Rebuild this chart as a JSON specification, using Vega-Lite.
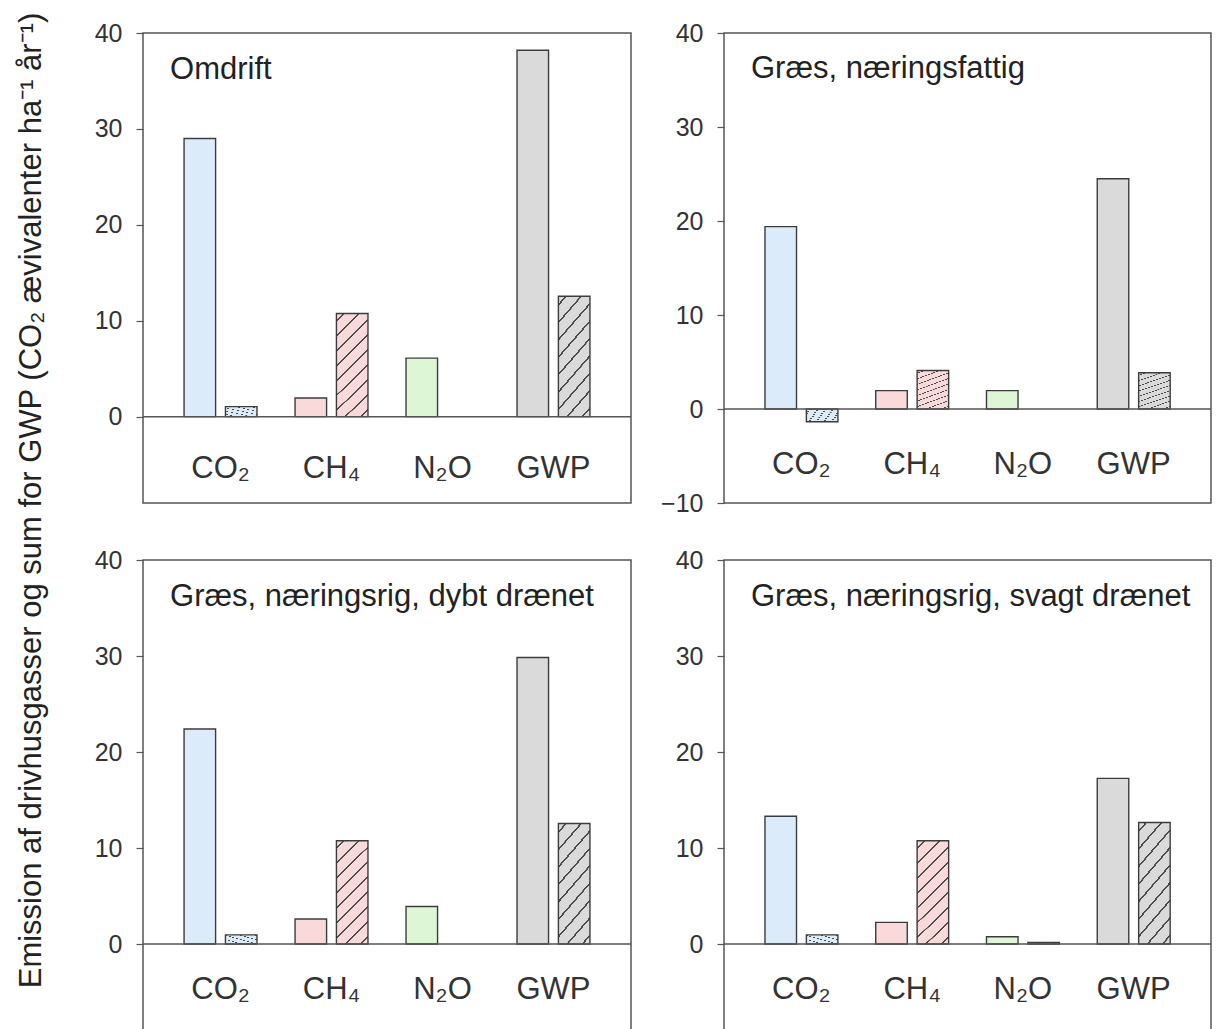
{
  "$schema": "https://vega.github.io/schema/vega-lite/v6.json",
  "padding": {"left": 16, "top": 12, "right": 5, "bottom": -11},
  "title": {
    "text": "Emission af drivhusgasser og sum for GWP (CO₂ ævivalenter ha⁻¹ år⁻¹)",
    "orient": "left", "anchor": "middle", "offset": 45, "fontSize": 31, "dx": 30
  },
  "data": {"values": [
    {"panel": "Omdrift", "gas": "CO₂", "type": "solid", "value": 29.0},
    {"panel": "Omdrift", "gas": "CO₂", "type": "hatched", "value": 1.05},
    {"panel": "Omdrift", "gas": "CH₄", "type": "solid", "value": 1.95},
    {"panel": "Omdrift", "gas": "CH₄", "type": "hatched", "value": 10.75},
    {"panel": "Omdrift", "gas": "N₂O", "type": "solid", "value": 6.1},
    {"panel": "Omdrift", "gas": "GWP", "type": "solid", "value": 38.2},
    {"panel": "Omdrift", "gas": "GWP", "type": "hatched", "value": 12.55},
    {"panel": "Græs, næringsfattig", "gas": "CO₂", "type": "solid", "value": 19.4},
    {"panel": "Græs, næringsfattig", "gas": "CO₂", "type": "hatched", "value": -1.35},
    {"panel": "Græs, næringsfattig", "gas": "CH₄", "type": "solid", "value": 1.95},
    {"panel": "Græs, næringsfattig", "gas": "CH₄", "type": "hatched", "value": 4.1},
    {"panel": "Græs, næringsfattig", "gas": "N₂O", "type": "solid", "value": 1.95},
    {"panel": "Græs, næringsfattig", "gas": "GWP", "type": "solid", "value": 24.5},
    {"panel": "Græs, næringsfattig", "gas": "GWP", "type": "hatched", "value": 3.85},
    {"panel": "Græs, næringsrig, dybt drænet", "gas": "CO₂", "type": "solid", "value": 22.4},
    {"panel": "Græs, næringsrig, dybt drænet", "gas": "CO₂", "type": "hatched", "value": 0.95},
    {"panel": "Græs, næringsrig, dybt drænet", "gas": "CH₄", "type": "solid", "value": 2.6},
    {"panel": "Græs, næringsrig, dybt drænet", "gas": "CH₄", "type": "hatched", "value": 10.75},
    {"panel": "Græs, næringsrig, dybt drænet", "gas": "N₂O", "type": "solid", "value": 3.9},
    {"panel": "Græs, næringsrig, dybt drænet", "gas": "GWP", "type": "solid", "value": 29.85},
    {"panel": "Græs, næringsrig, dybt drænet", "gas": "GWP", "type": "hatched", "value": 12.55},
    {"panel": "Græs, næringsrig, svagt drænet", "gas": "CO₂", "type": "solid", "value": 13.3},
    {"panel": "Græs, næringsrig, svagt drænet", "gas": "CO₂", "type": "hatched", "value": 0.95},
    {"panel": "Græs, næringsrig, svagt drænet", "gas": "CH₄", "type": "solid", "value": 2.25},
    {"panel": "Græs, næringsrig, svagt drænet", "gas": "CH₄", "type": "hatched", "value": 10.75},
    {"panel": "Græs, næringsrig, svagt drænet", "gas": "N₂O", "type": "solid", "value": 0.75},
    {"panel": "Græs, næringsrig, svagt drænet", "gas": "N₂O", "type": "hatched", "value": 0.17},
    {"panel": "Græs, næringsrig, svagt drænet", "gas": "GWP", "type": "solid", "value": 17.25},
    {"panel": "Græs, næringsrig, svagt drænet", "gas": "GWP", "type": "hatched", "value": 12.65}
  ]},
  "config": {
    "font": "Liberation Sans",
    "view": {"stroke": "#555", "strokeWidth": 1.5},
    "axisY": {"domain": false, "grid": false, "tickSize": 7, "tickColor": "#555", "tickWidth": 1.2, "labelPadding": 14, "labelFontSize": 25, "labelColor": "#333", "labelFont": "Liberation Sans"},
    "axisX": {"domain": false, "grid": false, "ticks": false, "tickSize": 0, "labelPadding": 0, "labelBaseline": "alphabetic", "labelFontSize": 31, "labelColor": "#333", "labelAngle": 0, "labelFont": "Liberation Sans"},
    "title": {"font": "Liberation Sans", "fontWeight": "normal", "color": "#222"}
  },
  "columns": 2,
  "spacing": {"row": 57, "column": 93},
  "bounds": "flush",
  "concat": [
    {
      "width": 488, "height": 470,
      "transform": [{"filter": "datum.panel === 'Omdrift'"}],
      "layer": [
        {
          "mark": {"type": "bar", "stroke": "#3c3c3c", "strokeWidth": 1.4},
          "encoding": {
            "x": {"field": "gas", "type": "nominal", "title": null, "scale": {"domain": ["CO₂", "CH₄", "N₂O", "GWP"], "paddingInner": 0.343, "paddingOuter": 0.37}, "axis": {"offset": -26}},
            "xOffset": {"field": "type", "type": "nominal", "scale": {"domain": ["solid", "hatched"], "paddingInner": 0.238, "paddingOuter": 0}},
            "y": {"field": "value", "type": "quantitative", "title": null, "scale": {"domain": [-9, 40], "nice": false, "zero": false}, "axis": {"values": [0, 10, 20, 30, 40]}},
            "color": {"field": "gas", "type": "nominal", "legend": null, "scale": {"domain": ["CO₂", "CH₄", "N₂O", "GWP"], "range": ["#dcebfa", "#f9d9d9", "#dcf6d6", "#dadada"]}}
          }
        },
        {
          "transform": [{"filter": "datum.type === 'hatched'"}],
          "mark": {"type": "bar", "strokeWidth": 0, "fill": {"gradient": "linear", "x1": 0, "y1": 0, "x2": 0.358, "y2": 1.193, "stops": [
            {"offset": 0, "color": "rgba(58,58,58,0)"},
            {"offset": 0.048, "color": "rgba(58,58,58,0)"}, {"offset": 0.0485, "color": "rgba(58,58,58,0.9)"}, {"offset": 0.0625, "color": "rgba(58,58,58,0.9)"}, {"offset": 0.063, "color": "rgba(58,58,58,0)"},
            {"offset": 0.1591, "color": "rgba(58,58,58,0)"}, {"offset": 0.1596, "color": "rgba(58,58,58,0.9)"}, {"offset": 0.1736, "color": "rgba(58,58,58,0.9)"}, {"offset": 0.1741, "color": "rgba(58,58,58,0)"},
            {"offset": 0.2702, "color": "rgba(58,58,58,0)"}, {"offset": 0.2707, "color": "rgba(58,58,58,0.9)"}, {"offset": 0.2847, "color": "rgba(58,58,58,0.9)"}, {"offset": 0.2852, "color": "rgba(58,58,58,0)"},
            {"offset": 0.3813, "color": "rgba(58,58,58,0)"}, {"offset": 0.3818, "color": "rgba(58,58,58,0.9)"}, {"offset": 0.3958, "color": "rgba(58,58,58,0.9)"}, {"offset": 0.3963, "color": "rgba(58,58,58,0)"},
            {"offset": 0.4924, "color": "rgba(58,58,58,0)"}, {"offset": 0.4929, "color": "rgba(58,58,58,0.9)"}, {"offset": 0.5069, "color": "rgba(58,58,58,0.9)"}, {"offset": 0.5074, "color": "rgba(58,58,58,0)"},
            {"offset": 0.6036, "color": "rgba(58,58,58,0)"}, {"offset": 0.6041, "color": "rgba(58,58,58,0.9)"}, {"offset": 0.6181, "color": "rgba(58,58,58,0.9)"}, {"offset": 0.6186, "color": "rgba(58,58,58,0)"},
            {"offset": 0.7147, "color": "rgba(58,58,58,0)"}, {"offset": 0.7152, "color": "rgba(58,58,58,0.9)"}, {"offset": 0.7292, "color": "rgba(58,58,58,0.9)"}, {"offset": 0.7297, "color": "rgba(58,58,58,0)"},
            {"offset": 0.8258, "color": "rgba(58,58,58,0)"}, {"offset": 0.8263, "color": "rgba(58,58,58,0.9)"}, {"offset": 0.8403, "color": "rgba(58,58,58,0.9)"}, {"offset": 0.8408, "color": "rgba(58,58,58,0)"},
            {"offset": 0.9369, "color": "rgba(58,58,58,0)"}, {"offset": 0.9374, "color": "rgba(58,58,58,0.9)"}, {"offset": 0.9514, "color": "rgba(58,58,58,0.9)"}, {"offset": 0.9519, "color": "rgba(58,58,58,0)"},
            {"offset": 1, "color": "rgba(58,58,58,0)"}
          ]}},
          "encoding": {
            "x": {"field": "gas", "type": "nominal"},
            "xOffset": {"field": "type", "type": "nominal"},
            "y": {"field": "value", "type": "quantitative"}
          }
        },
        {
          "data": {"values": [{}]},
          "mark": {"type": "rule", "color": "#555", "strokeWidth": 1.5},
          "encoding": {"y": {"datum": 0}}
        },
        {
          "data": {"values": [{"label": "Omdrift"}]},
          "mark": {"type": "text", "align": "left", "baseline": "alphabetic", "fontSize": 31, "color": "#222", "dx": -14},
          "encoding": {"text": {"field": "label"}, "x": {"datum": "CO₂", "bandPosition": 0}, "y": {"datum": 35.2}}
        }
      ]
    },
    {
      "width": 487, "height": 470,
      "transform": [{"filter": "datum.panel === 'Græs, næringsfattig'"}],
      "layer": [
        {
          "mark": {"type": "bar", "stroke": "#3c3c3c", "strokeWidth": 1.4},
          "encoding": {
            "x": {"field": "gas", "type": "nominal", "title": null, "scale": {"domain": ["CO₂", "CH₄", "N₂O", "GWP"], "paddingInner": 0.343, "paddingOuter": 0.37}, "axis": {"offset": -30}},
            "xOffset": {"field": "type", "type": "nominal", "scale": {"domain": ["solid", "hatched"], "paddingInner": 0.238, "paddingOuter": 0}},
            "y": {"field": "value", "type": "quantitative", "title": null, "scale": {"domain": [-10, 40], "nice": false, "zero": false}, "axis": {"values": [-10, 0, 10, 20, 30, 40]}},
            "color": {"field": "gas", "type": "nominal", "legend": null, "scale": {"domain": ["CO₂", "CH₄", "N₂O", "GWP"], "range": ["#dcebfa", "#f9d9d9", "#dcf6d6", "#dadada"]}}
          }
        },
        {
          "transform": [{"filter": "datum.type === 'hatched'"}],
          "mark": {"type": "bar", "strokeWidth": 0, "fill": {"gradient": "linear", "x1": 0, "y1": 0, "x2": 0.358, "y2": 1.193, "stops": [
            {"offset": 0, "color": "rgba(58,58,58,0)"},
            {"offset": 0.048, "color": "rgba(58,58,58,0)"}, {"offset": 0.0485, "color": "rgba(58,58,58,0.9)"}, {"offset": 0.0625, "color": "rgba(58,58,58,0.9)"}, {"offset": 0.063, "color": "rgba(58,58,58,0)"},
            {"offset": 0.1591, "color": "rgba(58,58,58,0)"}, {"offset": 0.1596, "color": "rgba(58,58,58,0.9)"}, {"offset": 0.1736, "color": "rgba(58,58,58,0.9)"}, {"offset": 0.1741, "color": "rgba(58,58,58,0)"},
            {"offset": 0.2702, "color": "rgba(58,58,58,0)"}, {"offset": 0.2707, "color": "rgba(58,58,58,0.9)"}, {"offset": 0.2847, "color": "rgba(58,58,58,0.9)"}, {"offset": 0.2852, "color": "rgba(58,58,58,0)"},
            {"offset": 0.3813, "color": "rgba(58,58,58,0)"}, {"offset": 0.3818, "color": "rgba(58,58,58,0.9)"}, {"offset": 0.3958, "color": "rgba(58,58,58,0.9)"}, {"offset": 0.3963, "color": "rgba(58,58,58,0)"},
            {"offset": 0.4924, "color": "rgba(58,58,58,0)"}, {"offset": 0.4929, "color": "rgba(58,58,58,0.9)"}, {"offset": 0.5069, "color": "rgba(58,58,58,0.9)"}, {"offset": 0.5074, "color": "rgba(58,58,58,0)"},
            {"offset": 0.6036, "color": "rgba(58,58,58,0)"}, {"offset": 0.6041, "color": "rgba(58,58,58,0.9)"}, {"offset": 0.6181, "color": "rgba(58,58,58,0.9)"}, {"offset": 0.6186, "color": "rgba(58,58,58,0)"},
            {"offset": 0.7147, "color": "rgba(58,58,58,0)"}, {"offset": 0.7152, "color": "rgba(58,58,58,0.9)"}, {"offset": 0.7292, "color": "rgba(58,58,58,0.9)"}, {"offset": 0.7297, "color": "rgba(58,58,58,0)"},
            {"offset": 0.8258, "color": "rgba(58,58,58,0)"}, {"offset": 0.8263, "color": "rgba(58,58,58,0.9)"}, {"offset": 0.8403, "color": "rgba(58,58,58,0.9)"}, {"offset": 0.8408, "color": "rgba(58,58,58,0)"},
            {"offset": 0.9369, "color": "rgba(58,58,58,0)"}, {"offset": 0.9374, "color": "rgba(58,58,58,0.9)"}, {"offset": 0.9514, "color": "rgba(58,58,58,0.9)"}, {"offset": 0.9519, "color": "rgba(58,58,58,0)"},
            {"offset": 1, "color": "rgba(58,58,58,0)"}
          ]}},
          "encoding": {
            "x": {"field": "gas", "type": "nominal"},
            "xOffset": {"field": "type", "type": "nominal"},
            "y": {"field": "value", "type": "quantitative"}
          }
        },
        {
          "data": {"values": [{}]},
          "mark": {"type": "rule", "color": "#555", "strokeWidth": 1.5},
          "encoding": {"y": {"datum": 0}}
        },
        {
          "data": {"values": [{"label": "Græs, næringsfattig"}]},
          "mark": {"type": "text", "align": "left", "baseline": "alphabetic", "fontSize": 31, "color": "#222", "dx": -14},
          "encoding": {"text": {"field": "label"}, "x": {"datum": "CO₂", "bandPosition": 0}, "y": {"datum": 35.2}}
        }
      ]
    },
    {
      "width": 488, "height": 480,
      "transform": [{"filter": "datum.panel === 'Græs, næringsrig, dybt drænet'"}],
      "layer": [
        {
          "mark": {"type": "bar", "stroke": "#3c3c3c", "strokeWidth": 1.4},
          "encoding": {
            "x": {"field": "gas", "type": "nominal", "title": null, "scale": {"domain": ["CO₂", "CH₄", "N₂O", "GWP"], "paddingInner": 0.343, "paddingOuter": 0.37}, "axis": {"offset": -42}},
            "xOffset": {"field": "type", "type": "nominal", "scale": {"domain": ["solid", "hatched"], "paddingInner": 0.238, "paddingOuter": 0}},
            "y": {"field": "value", "type": "quantitative", "title": null, "scale": {"domain": [-10, 40], "nice": false, "zero": false}, "axis": {"values": [0, 10, 20, 30, 40]}},
            "color": {"field": "gas", "type": "nominal", "legend": null, "scale": {"domain": ["CO₂", "CH₄", "N₂O", "GWP"], "range": ["#dcebfa", "#f9d9d9", "#dcf6d6", "#dadada"]}}
          }
        },
        {
          "transform": [{"filter": "datum.type === 'hatched'"}],
          "mark": {"type": "bar", "strokeWidth": 0, "fill": {"gradient": "linear", "x1": 0, "y1": 0, "x2": 0.358, "y2": 1.193, "stops": [
            {"offset": 0, "color": "rgba(58,58,58,0)"},
            {"offset": 0.048, "color": "rgba(58,58,58,0)"}, {"offset": 0.0485, "color": "rgba(58,58,58,0.9)"}, {"offset": 0.0625, "color": "rgba(58,58,58,0.9)"}, {"offset": 0.063, "color": "rgba(58,58,58,0)"},
            {"offset": 0.1591, "color": "rgba(58,58,58,0)"}, {"offset": 0.1596, "color": "rgba(58,58,58,0.9)"}, {"offset": 0.1736, "color": "rgba(58,58,58,0.9)"}, {"offset": 0.1741, "color": "rgba(58,58,58,0)"},
            {"offset": 0.2702, "color": "rgba(58,58,58,0)"}, {"offset": 0.2707, "color": "rgba(58,58,58,0.9)"}, {"offset": 0.2847, "color": "rgba(58,58,58,0.9)"}, {"offset": 0.2852, "color": "rgba(58,58,58,0)"},
            {"offset": 0.3813, "color": "rgba(58,58,58,0)"}, {"offset": 0.3818, "color": "rgba(58,58,58,0.9)"}, {"offset": 0.3958, "color": "rgba(58,58,58,0.9)"}, {"offset": 0.3963, "color": "rgba(58,58,58,0)"},
            {"offset": 0.4924, "color": "rgba(58,58,58,0)"}, {"offset": 0.4929, "color": "rgba(58,58,58,0.9)"}, {"offset": 0.5069, "color": "rgba(58,58,58,0.9)"}, {"offset": 0.5074, "color": "rgba(58,58,58,0)"},
            {"offset": 0.6036, "color": "rgba(58,58,58,0)"}, {"offset": 0.6041, "color": "rgba(58,58,58,0.9)"}, {"offset": 0.6181, "color": "rgba(58,58,58,0.9)"}, {"offset": 0.6186, "color": "rgba(58,58,58,0)"},
            {"offset": 0.7147, "color": "rgba(58,58,58,0)"}, {"offset": 0.7152, "color": "rgba(58,58,58,0.9)"}, {"offset": 0.7292, "color": "rgba(58,58,58,0.9)"}, {"offset": 0.7297, "color": "rgba(58,58,58,0)"},
            {"offset": 0.8258, "color": "rgba(58,58,58,0)"}, {"offset": 0.8263, "color": "rgba(58,58,58,0.9)"}, {"offset": 0.8403, "color": "rgba(58,58,58,0.9)"}, {"offset": 0.8408, "color": "rgba(58,58,58,0)"},
            {"offset": 0.9369, "color": "rgba(58,58,58,0)"}, {"offset": 0.9374, "color": "rgba(58,58,58,0.9)"}, {"offset": 0.9514, "color": "rgba(58,58,58,0.9)"}, {"offset": 0.9519, "color": "rgba(58,58,58,0)"},
            {"offset": 1, "color": "rgba(58,58,58,0)"}
          ]}},
          "encoding": {
            "x": {"field": "gas", "type": "nominal"},
            "xOffset": {"field": "type", "type": "nominal"},
            "y": {"field": "value", "type": "quantitative"}
          }
        },
        {
          "data": {"values": [{}]},
          "mark": {"type": "rule", "color": "#555", "strokeWidth": 1.5},
          "encoding": {"y": {"datum": 0}}
        },
        {
          "data": {"values": [{"label": "Græs, næringsrig, dybt drænet"}]},
          "mark": {"type": "text", "align": "left", "baseline": "alphabetic", "fontSize": 31, "color": "#222", "dx": -14},
          "encoding": {"text": {"field": "label"}, "x": {"datum": "CO₂", "bandPosition": 0}, "y": {"datum": 35.2}}
        }
      ]
    },
    {
      "width": 487, "height": 480,
      "transform": [{"filter": "datum.panel === 'Græs, næringsrig, svagt drænet'"}],
      "layer": [
        {
          "mark": {"type": "bar", "stroke": "#3c3c3c", "strokeWidth": 1.4},
          "encoding": {
            "x": {"field": "gas", "type": "nominal", "title": null, "scale": {"domain": ["CO₂", "CH₄", "N₂O", "GWP"], "paddingInner": 0.343, "paddingOuter": 0.37}, "axis": {"offset": -42}},
            "xOffset": {"field": "type", "type": "nominal", "scale": {"domain": ["solid", "hatched"], "paddingInner": 0.238, "paddingOuter": 0}},
            "y": {"field": "value", "type": "quantitative", "title": null, "scale": {"domain": [-10, 40], "nice": false, "zero": false}, "axis": {"values": [0, 10, 20, 30, 40]}},
            "color": {"field": "gas", "type": "nominal", "legend": null, "scale": {"domain": ["CO₂", "CH₄", "N₂O", "GWP"], "range": ["#dcebfa", "#f9d9d9", "#dcf6d6", "#dadada"]}}
          }
        },
        {
          "transform": [{"filter": "datum.type === 'hatched'"}],
          "mark": {"type": "bar", "strokeWidth": 0, "fill": {"gradient": "linear", "x1": 0, "y1": 0, "x2": 0.358, "y2": 1.193, "stops": [
            {"offset": 0, "color": "rgba(58,58,58,0)"},
            {"offset": 0.048, "color": "rgba(58,58,58,0)"}, {"offset": 0.0485, "color": "rgba(58,58,58,0.9)"}, {"offset": 0.0625, "color": "rgba(58,58,58,0.9)"}, {"offset": 0.063, "color": "rgba(58,58,58,0)"},
            {"offset": 0.1591, "color": "rgba(58,58,58,0)"}, {"offset": 0.1596, "color": "rgba(58,58,58,0.9)"}, {"offset": 0.1736, "color": "rgba(58,58,58,0.9)"}, {"offset": 0.1741, "color": "rgba(58,58,58,0)"},
            {"offset": 0.2702, "color": "rgba(58,58,58,0)"}, {"offset": 0.2707, "color": "rgba(58,58,58,0.9)"}, {"offset": 0.2847, "color": "rgba(58,58,58,0.9)"}, {"offset": 0.2852, "color": "rgba(58,58,58,0)"},
            {"offset": 0.3813, "color": "rgba(58,58,58,0)"}, {"offset": 0.3818, "color": "rgba(58,58,58,0.9)"}, {"offset": 0.3958, "color": "rgba(58,58,58,0.9)"}, {"offset": 0.3963, "color": "rgba(58,58,58,0)"},
            {"offset": 0.4924, "color": "rgba(58,58,58,0)"}, {"offset": 0.4929, "color": "rgba(58,58,58,0.9)"}, {"offset": 0.5069, "color": "rgba(58,58,58,0.9)"}, {"offset": 0.5074, "color": "rgba(58,58,58,0)"},
            {"offset": 0.6036, "color": "rgba(58,58,58,0)"}, {"offset": 0.6041, "color": "rgba(58,58,58,0.9)"}, {"offset": 0.6181, "color": "rgba(58,58,58,0.9)"}, {"offset": 0.6186, "color": "rgba(58,58,58,0)"},
            {"offset": 0.7147, "color": "rgba(58,58,58,0)"}, {"offset": 0.7152, "color": "rgba(58,58,58,0.9)"}, {"offset": 0.7292, "color": "rgba(58,58,58,0.9)"}, {"offset": 0.7297, "color": "rgba(58,58,58,0)"},
            {"offset": 0.8258, "color": "rgba(58,58,58,0)"}, {"offset": 0.8263, "color": "rgba(58,58,58,0.9)"}, {"offset": 0.8403, "color": "rgba(58,58,58,0.9)"}, {"offset": 0.8408, "color": "rgba(58,58,58,0)"},
            {"offset": 0.9369, "color": "rgba(58,58,58,0)"}, {"offset": 0.9374, "color": "rgba(58,58,58,0.9)"}, {"offset": 0.9514, "color": "rgba(58,58,58,0.9)"}, {"offset": 0.9519, "color": "rgba(58,58,58,0)"},
            {"offset": 1, "color": "rgba(58,58,58,0)"}
          ]}},
          "encoding": {
            "x": {"field": "gas", "type": "nominal"},
            "xOffset": {"field": "type", "type": "nominal"},
            "y": {"field": "value", "type": "quantitative"}
          }
        },
        {
          "data": {"values": [{}]},
          "mark": {"type": "rule", "color": "#555", "strokeWidth": 1.5},
          "encoding": {"y": {"datum": 0}}
        },
        {
          "data": {"values": [{"label": "Græs, næringsrig, svagt drænet"}]},
          "mark": {"type": "text", "align": "left", "baseline": "alphabetic", "fontSize": 31, "color": "#222", "dx": -14},
          "encoding": {"text": {"field": "label"}, "x": {"datum": "CO₂", "bandPosition": 0}, "y": {"datum": 35.2}}
        }
      ]
    }
  ]
}
